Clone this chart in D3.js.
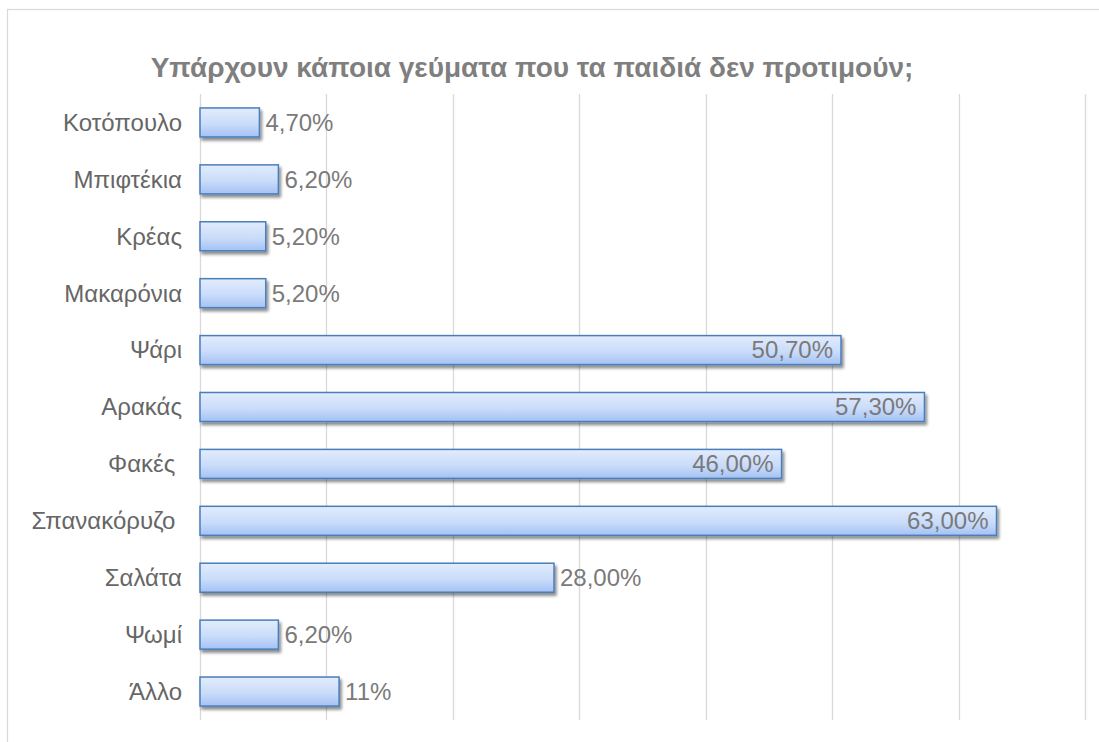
<!DOCTYPE html>
<html>
<head>
<meta charset="utf-8">
<script src="https://cdn.jsdelivr.net/npm/d3@7"></script>
<style>
  body { margin: 0; background: #fff; }
  text { font-family: "Liberation Sans", Arial, sans-serif; white-space: pre; }
</style>
</head>
<body>
<div id="chart"></div>
<script>
var title = "Υπάρχουν κάποια γεύματα που τα παιδιά δεν προτιμούν;";
var categories = ["Κοτόπουλο", "Μπιφτέκια", "Κρέας", "Μακαρόνια", "Ψάρι", "Αρακάς", "Φακές ", "Σπανακόρυζο ", "Σαλάτα", "Ψωμί", "Άλλο"];
var values = [4.7, 6.2, 5.2, 5.2, 50.7, 57.3, 46.0, 63.0, 28.0, 6.2, 11];
var valueLabels = ["4,70%", "6,20%", "5,20%", "5,20%", "50,70%", "57,30%", "46,00%", "63,00%", "28,00%", "6,20%", "11%"];
var gridTicks = [0, 10, 20, 30, 40, 50, 60, 70];

var width = 1099, height = 742;
var margin = {top: 94, left: 200, right: 14, bottom: 22};

var svg = d3.select("#chart").append("svg")
  .attr("width", width)
  .attr("height", height);

var defs = svg.append("defs");
var grad = defs.append("linearGradient")
  .attr("id", "barGrad")
  .attr("x1", 0).attr("y1", 0).attr("x2", 0).attr("y2", 1);
grad.append("stop").attr("offset", "0%").attr("stop-color", "#e2ecfc");
grad.append("stop").attr("offset", "55%").attr("stop-color", "#cadcfa");
grad.append("stop").attr("offset", "100%").attr("stop-color", "#a4c2f4");

var shadow = defs.append("filter").attr("id", "shadow")
  .attr("x", "-5%").attr("y", "-30%").attr("width", "115%").attr("height", "180%");
shadow.append("feGaussianBlur").attr("in", "SourceAlpha").attr("stdDeviation", 1.6);
shadow.append("feOffset").attr("dx", 2).attr("dy", 3).attr("result", "ob");
shadow.append("feComponentTransfer").append("feFuncA").attr("type", "linear").attr("slope", 0.45);
var merge = shadow.append("feMerge");
merge.append("feMergeNode");
merge.append("feMergeNode").attr("in", "SourceGraphic");

// outer frame (cut off on the right and bottom)
svg.append("rect")
  .attr("x", 7.5).attr("y", 9.5)
  .attr("width", width + 20).attr("height", height + 20)
  .attr("fill", "none")
  .attr("stroke", "#d9d9d9")
  .attr("stroke-width", 1.2);

svg.append("text")
  .attr("x", 532).attr("y", 77)
  .attr("text-anchor", "middle")
  .style("font-size", "28px")
  .style("font-weight", "bold")
  .style("fill", "#7f7f7f")
  .text(title);

var x = d3.scaleLinear()
  .domain([0, 70])
  .range([margin.left, 1085]);

var y = d3.scaleBand()
  .domain(categories)
  .range([margin.top, 720])
  .paddingInner(0.49)
  .paddingOuter(0.245);

svg.append("g").selectAll("line")
  .data(gridTicks)
  .enter().append("line")
  .attr("x1", function(d) { return Math.round(x(d)) + 0.5; })
  .attr("x2", function(d) { return Math.round(x(d)) + 0.5; })
  .attr("y1", margin.top)
  .attr("y2", 720)
  .attr("stroke", "#d9d9d9")
  .attr("stroke-width", 1.3);

svg.append("g").selectAll("rect")
  .data(values)
  .enter().append("rect")
  .attr("x", x(0))
  .attr("y", function(d, i) { return y(categories[i]); })
  .attr("width", function(d) { return x(d) - x(0); })
  .attr("height", y.bandwidth())
  .attr("fill", "url(#barGrad)")
  .attr("stroke", "#4a7ebb")
  .attr("stroke-width", 1.5)
  .attr("filter", "url(#shadow)");

svg.append("g").selectAll("text")
  .data(categories)
  .enter().append("text")
  .attr("x", 182)
  .attr("y", function(d) { return y(d) + y.bandwidth() / 2; })
  .attr("dy", "0.35em")
  .attr("text-anchor", "end")
  .style("font-size", "24px")
  .style("fill", "#666666")
  .text(function(d) { return d; });

svg.append("g").selectAll("text")
  .data(values)
  .enter().append("text")
  .attr("x", function(d) { return d > 40 ? x(d) - 8 : x(d) + 6; })
  .attr("y", function(d, i) { return y(categories[i]) + y.bandwidth() / 2; })
  .attr("dy", "0.35em")
  .attr("text-anchor", function(d) { return d > 40 ? "end" : "start"; })
  .style("font-size", "24px")
  .style("fill", "#7a7a7a")
  .text(function(d, i) { return valueLabels[i]; });
</script>
</body>
</html>
